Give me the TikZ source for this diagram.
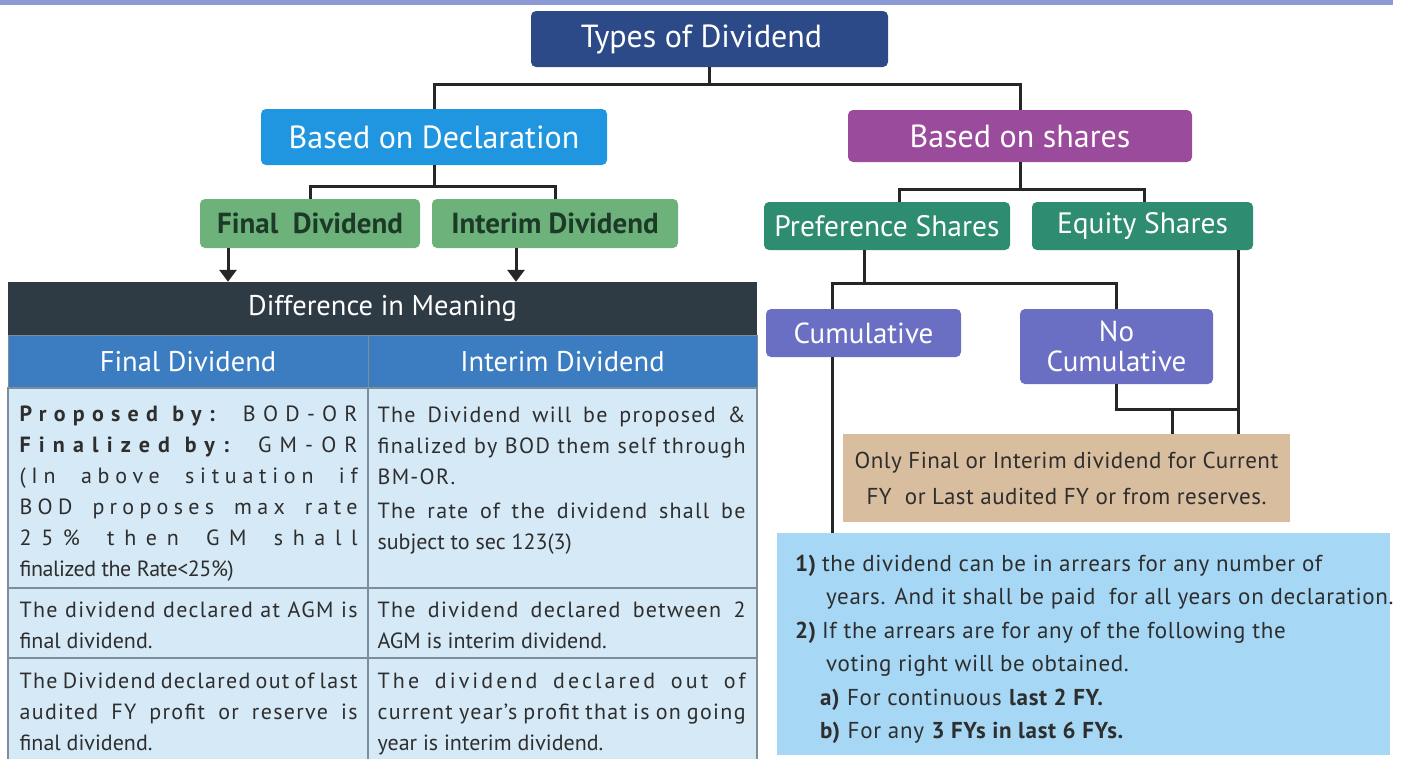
\documentclass[tikz,border=0pt]{standalone}
\usepackage{fontspec}
\setmainfont{PT Sans}
\usetikzlibrary{positioning, arrows.meta}
\definecolor{bandblue}{HTML}{8C9AD6}
\definecolor{navy}{HTML}{2D4A88}
\definecolor{declblue}{HTML}{2196E0}
\definecolor{sharepurple}{HTML}{9A4B9B}
\definecolor{kindgreen}{HTML}{6DB27A}
\definecolor{kindtext}{HTML}{1D3A28}
\definecolor{prefgreen}{HTML}{2E8C70}
\definecolor{cumviolet}{HTML}{6A6FC4}
\definecolor{titleslate}{HTML}{2E3B45}
\definecolor{headblue}{HTML}{3B7DC0}
\definecolor{cellblue}{HTML}{D6E9F6}
\definecolor{cellline}{HTML}{7D8D9B}
\definecolor{notetan}{HTML}{D8BD9E}
\definecolor{infoblue}{HTML}{A6D7F4}
\definecolor{bodytext}{HTML}{2E2E2E}
\newcommand{\jl}[2]{\makebox[#1][s]{#2}}
\newcommand{\spaced}[2]{{\addfontfeature{LetterSpace=#1}#2}}
\tikzset{
  >={Triangle[width=17pt,length=12pt]},
  tbox/.style={rounded corners=5pt, text=white, inner sep=0pt,
    font=\fontsize{32}{36}\selectfont},
  topbox/.style={tbox, fill=navy},
  declbox/.style={tbox, fill=declblue},
  sharebox/.style={tbox, fill=sharepurple},
  kindbox/.style={tbox, fill=kindgreen, text=kindtext, font=\fontsize{29}{34}\selectfont\bfseries},
  prefbox/.style={tbox, fill=prefgreen, font=\fontsize{29.5}{34}\selectfont},
  cumbox/.style={tbox, fill=cumviolet, align=center, font=\fontsize{29}{30}\selectfont},
  bus/.style={line width=3pt, draw=black!85},
  titlebar/.style={fill=titleslate, text=white, inner sep=0pt,
    font=\fontsize{28.5}{32}\selectfont},
  headcell/.style={fill=headblue, draw=cellline, line width=1pt, text=white,
    inner sep=0pt, font=\fontsize{28.5}{32}\selectfont},
  cell/.style={fill=cellblue, draw=cellline, line width=1.2pt, inner sep=0pt},
  celltext/.style={anchor=north west, inner sep=0pt, align=left, text=bodytext,
    font=\fontsize{22}{31}\selectfont\addfontfeature{LetterSpace=6}},
  notebox/.style={fill=notetan, inner sep=0pt, align=center, text=bodytext,
    font=\fontsize{23}{36}\selectfont\addfontfeature{LetterSpace=2}},
  infobox/.style={fill=infoblue, inner sep=0pt},
}
\begin{document}
\begin{tikzpicture}[x=1pt,y=-1pt]
\useasboundingbox (0,0) rectangle (1404,758);
\fill[bandblue] (0,0) rectangle (1393,5);

\node[topbox, minimum width=357pt, minimum height=56pt] (types) at (709.5,39) {Types of Dividend\hspace*{16pt}};
\node[declbox, minimum width=346pt, minimum height=56pt] (decl) at (434,137) {Based on Declaration};
\node[sharebox, minimum width=344pt, minimum height=52pt] (shares) at (1020,136) {Based on shares};
\node[kindbox, minimum width=220pt, minimum height=49pt] (final) at (310,223.5) {Final\ \ Dividend};
\node[kindbox, minimum width=246pt, minimum height=49pt] (interim) at (555,223.5) {Interim Dividend};
\node[prefbox, minimum width=246pt, minimum height=48pt] (pref) at (887,226) {Preference Shares};
\node[prefbox, minimum width=221pt, minimum height=48pt] (equity) at (1142.5,226) {Equity Shares};
\node[cumbox, minimum width=195pt, minimum height=48pt] (cum) at (863.5,333) {Cumulative};
\node[cumbox, minimum width=193pt, minimum height=75pt] (noncum) at (1116.5,346.5) {No\\Cumulative};
\node[notebox, minimum width=447pt, minimum height=88pt] (only) at (1066.5,478)
  {Only Final or Interim dividend for Current\\FY\ \ or Last audited FY or from reserves.};
\node[infobox, minimum width=613pt, minimum height=222pt] (arrears) at (1083.5,644) {};
\node[celltext, font=\fontsize{23}{33.5}\selectfont\addfontfeature{LetterSpace=3}] (arrtext)
  at ([shift={(18,22)}]arrears.north west)
  {\makebox[27pt][l]{\textbf{1)}}the dividend can be in arrears for any number of\\
   \hspace*{31pt}years. And it shall be paid\ \ for all years on declaration.\\
   \makebox[27pt][l]{\textbf{2)}}If the arrears are for any of the following the\\
   \hspace*{31pt}voting right will be obtained.\\
   \hspace*{25pt}\textbf{a)} For continuous \textbf{last 2 FY.}\\
   \hspace*{25pt}\textbf{b)} For any \textbf{3 FYs in last 6 FYs.}};

\draw[bus] (types.south) -- ++(0,17) -| (decl.north);
\draw[bus] (types.south) -- ++(0,17) -| (shares.north);
\draw[bus] (decl.south) -- ++(0,21) -| (final.north);
\draw[bus] (decl.south) -- ++(0,21) -| (interim.north);
\draw[bus] (shares.south) -- ++(0,27) -| ([xshift=12pt]pref.north);
\draw[bus] (shares.south) -- ++(0,27) -| ([xshift=2pt]equity.north);
\draw[bus] ([xshift=-23pt]pref.south) -- ++(0,33) coordinate (pb);
\draw[bus] ([xshift=-31pt]cum.north) |- (pb) -| (noncum.north);
\draw[bus] ([xshift=-31pt]cum.south) -- ([xshift=-31pt]cum.south |- arrears.north);
\draw[bus] (noncum.south) -- ++(0,25) coordinate (nb) -| ([xshift=96pt]equity.south);
\draw[bus] ([xshift=96pt]equity.south) -- ([xshift=96pt]equity.south |- only.north);
\draw[bus] ([xshift=106pt]only.north) |- (nb);

\node[titlebar, minimum width=749pt, minimum height=53pt] (diff) at (382.5,308.5) {Difference in Meaning};
\draw[bus, ->] ([xshift=-82pt]final.south) -- ([xshift=-82pt]final.south |- diff.north);
\draw[bus, ->] ([xshift=-39pt]interim.south) -- ([xshift=-39pt]interim.south |- diff.north);

\node[headcell, minimum width=360pt, minimum height=53pt] (hfin) at (188,361.5) {Final Dividend};
\node[headcell, minimum width=389pt, minimum height=53pt] (hint) at (562.5,361.5) {Interim Dividend};
\node[cell, minimum width=360pt, minimum height=200pt] (c11) at (188,488) {};
\node[cell, minimum width=389pt, minimum height=200pt] (c12) at (562.5,488) {};
\node[cell, minimum width=360pt, minimum height=70pt] (c21) at (188,623) {};
\node[cell, minimum width=389pt, minimum height=70pt] (c22) at (562.5,623) {};
\node[cell, minimum width=360pt, minimum height=108pt] (c31) at (188,712) {};
\node[cell, minimum width=389pt, minimum height=108pt] (c32) at (562.5,712) {};

\node[celltext] (t11) at ([shift={(12,18)}]c11.north west)
  {\jl{338pt}{\spaced{33}{\textbf{Proposed by:} BOD-OR}}\\
   \jl{338pt}{\spaced{37}{\textbf{Finalized by:} GM-OR}}\\
   \jl{338pt}{\spaced{26}{(In above situation if}}\\
   \jl{338pt}{\spaced{24}{BOD proposes max rate}}\\
   \jl{338pt}{\spaced{44}{25\% then GM shall}}\\
   \spaced{-2}{finalized the Rate<25\%)}};
\node[celltext] (t12) at ([shift={(10,19)}]c12.north west)
  {\jl{368pt}{The Dividend will be proposed \&}\\
   \jl{368pt}{finalized by BOD them self through}\\
   BM-OR.\\[3pt]
   \jl{368pt}{The rate of the dividend shall be}\\
   \spaced{0}{subject to sec 123(3)}};
\node[celltext] (t21) at ([shift={(12,14)}]c21.north west)
  {\jl{338pt}{The dividend declared at AGM is}\\
   \spaced{0}{final dividend.}};
\node[celltext] (t22) at ([shift={(10,14)}]c22.north west)
  {\jl{368pt}{The dividend declared between 2}\\
   \spaced{0}{AGM is interim dividend.}};
\node[celltext] (t31) at ([shift={(12,15)}]c31.north west)
  {\jl{338pt}{The Dividend declared out of last}\\
   \jl{338pt}{audited FY profit or reserve is}\\
   \spaced{0}{final dividend.}};
\node[celltext] (t32) at ([shift={(10,15)}]c32.north west)
  {\jl{368pt}{\spaced{14}{The dividend declared out of}}\\
   \jl{368pt}{current year’s profit that is on going}\\
   \spaced{0}{year is interim dividend.}};
\end{tikzpicture}
\end{document}
